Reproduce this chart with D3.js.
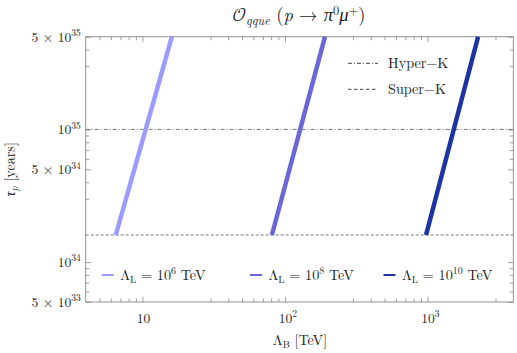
<!DOCTYPE html>
<html>
<head>
<meta charset="utf-8">
<script src="https://cdn.jsdelivr.net/npm/d3@7"></script>
<style>
  body { margin: 0; background: #fff; }
</style>
</head>
<body>
<div id="chart"></div>
<script>
// values
const lambdaLExp = [6, 8, 10];                      // Λ_L = 10^n TeV
const lineColors = ["#9c9cff", "#6a68d6", "#1c34a2"];
const tauEnds = [1.6e34, 5e35];                     // lines run from Super-K bound to top
const lambdaBStart = [6.5, 81, 977];                // Λ_B at τ = 1.6e34
const lambdaBEnd = [16.1, 191, 2265];               // Λ_B at τ = 5e35
const hyperK = 1e35;
const superK = 1.6e34;

const xMajor = [10, 100, 1000];
const xMajorLabels = [["10", ""], ["10", "2"], ["10", "3"]];
const xMinor = [5, 6, 7, 8, 9, 30, 40, 50, 60, 70, 80, 90, 300, 400, 500, 600, 700, 800, 900, 3000];
const yMajor = [5e33, 1e34, 5e34, 1e35, 5e35];
const yMajorLabels = [["5 × 10", "33"], ["10", "34"], ["5 × 10", "34"], ["10", "35"], ["5 × 10", "35"]];
const yMinor = [6e33, 7e33, 8e33, 9e33, 3e34, 4e34, 6e34, 7e34, 8e34, 9e34, 3e35, 4e35];

const lm = "'Latin Modern Roman'";

var margin = {top: 36.7, left: 85.7, right: 3.7, bottom: 51},
    W = 517, H = 353,
    width = W - margin.left - margin.right,
    height = H - margin.top - margin.bottom;

var svg = d3.select("#chart").append("svg")
    .attr("width", W)
    .attr("height", H)
    .style("font-family", lm);

var g = svg.append("g")
    .attr("transform", "translate(" + margin.left + "," + margin.top + ")");

var x = d3.scaleLog().domain([4, 4000]).range([0, width]);
var y = d3.scaleLog().domain([5e33, 5e35]).range([height, 0]);

// frame with inward ticks on all sides
function styleAxis(sel) {
    sel.select(".domain").remove();
    sel.selectAll("line").attr("stroke", "#888").attr("stroke-width", 0.8);
}
var tickSets = [[xMajor, 5.5], [xMinor, 3.5]];
tickSets.forEach(function(t) {
    g.append("g").attr("transform", "translate(0," + height + ")")
        .call(d3.axisBottom(x).tickValues(t[0]).tickSize(-t[1]).tickFormat(""))
        .call(styleAxis);
    g.append("g")
        .call(d3.axisTop(x).tickValues(t[0]).tickSize(-t[1]).tickFormat(""))
        .call(styleAxis);
});
var yTickSets = [[yMajor, 5.5], [yMinor, 3.5]];
yTickSets.forEach(function(t) {
    g.append("g")
        .call(d3.axisLeft(y).tickValues(t[0]).tickSize(-t[1]).tickFormat(""))
        .call(styleAxis);
    g.append("g").attr("transform", "translate(" + width + ",0)")
        .call(d3.axisRight(y).tickValues(t[0]).tickSize(-t[1]).tickFormat(""))
        .call(styleAxis);
});

g.append("rect")
    .attr("width", width)
    .attr("height", height)
    .attr("fill", "none")
    .attr("stroke", "#888")
    .attr("stroke-width", 0.9);

function newText(parent, size) {
    return parent.append("text")
        .style("font-family", lm)
        .attr("fill", "#222")
        .attr("font-size", size);
}

// tick labels with superscripts
function supText(sel, base, sup, size) {
    sel.append("tspan").text(base);
    if (sup) sel.append("tspan").attr("dy", -size * 0.42).attr("font-size", size * 0.7).text(sup);
}
xMajor.forEach(function(v, i) {
    var t = newText(g, 13.5)
        .attr("x", x(v) + (xMajorLabels[i][1] ? 3 : 1))
        .attr("y", height + 21)
        .attr("text-anchor", "middle");
    supText(t, xMajorLabels[i][0], xMajorLabels[i][1], 13.5);
});
yMajor.forEach(function(v, i) {
    var t = newText(g, 13.5)
        .attr("x", -5)
        .attr("y", y(v) + 5)
        .attr("text-anchor", "end");
    supText(t, yMajorLabels[i][0], yMajorLabels[i][1], 13.5);
});

// reference bounds
g.append("line")
    .attr("x1", 0).attr("x2", width)
    .attr("y1", y(hyperK)).attr("y2", y(hyperK))
    .attr("stroke", "#777").attr("stroke-width", 1)
    .attr("stroke-dasharray", "4,2,1,2");
g.append("line")
    .attr("x1", 0).attr("x2", width)
    .attr("y1", y(superK)).attr("y2", y(superK))
    .attr("stroke", "#777").attr("stroke-width", 1)
    .attr("stroke-dasharray", "3,2");

// lifetime lines
var line = d3.line().x(d => x(d[0])).y(d => y(d[1]));
lambdaLExp.forEach(function(n, i) {
    g.append("path")
        .datum([[lambdaBStart[i], tauEnds[0]], [lambdaBEnd[i], tauEnds[1]]])
        .attr("d", line)
        .attr("fill", "none")
        .attr("stroke", lineColors[i])
        .attr("stroke-width", 4.5);
});

// top right legend
var legendTop = [["Hyper−K", "4,2,1,2", 63.3], ["Super−K", "3.5,2.5", 89.3]];
legendTop.forEach(function(d) {
    svg.append("line")
        .attr("x1", 348).attr("x2", 378)
        .attr("y1", d[2]).attr("y2", d[2])
        .attr("stroke", "#444").attr("stroke-width", 1)
        .attr("stroke-dasharray", d[1]);
    newText(svg, 14.2)
        .attr("x", 388).attr("y", d[2] + 4.5)
        .text(d[0]);
});

// bottom legend
var legX = [101.7, 250, 383.5];
lambdaLExp.forEach(function(n, i) {
    svg.append("line")
        .attr("x1", legX[i]).attr("x2", legX[i] + 12)
        .attr("y1", 275).attr("y2", 275)
        .attr("stroke", lineColors[i]).attr("stroke-width", 2);
    var t = newText(svg, 14.2)
        .attr("x", legX[i] + 18.5).attr("y", 280);
    t.append("tspan").text("Λ");
    t.append("tspan").attr("dy", 3).attr("font-size", 10).text("L");
    t.append("tspan").attr("dy", -3).text(" = 10");
    t.append("tspan").attr("dy", -6).attr("font-size", 10).text(n);
    t.append("tspan").attr("dy", 6).text(" TeV");
});

// title
var title = newText(svg, 18.5)
    .attr("x", 299).attr("y", 21)
    .attr("text-anchor", "middle");
title.append("tspan").style("font-family", "'Latin Modern Math', 'Latin Modern Roman'").attr("font-size", 19.5).text("𝒪");
title.append("tspan").attr("font-style", "italic").attr("font-size", 12.5).attr("dy", 4).text("qque");
title.append("tspan").attr("dy", -4).text(" (");
title.append("tspan").attr("font-style", "italic").text("p");
title.append("tspan").text(" → ");
title.append("tspan").attr("font-style", "italic").text("π");
title.append("tspan").attr("font-size", 12.5).attr("dy", -6.5).text("0");
title.append("tspan").attr("font-style", "italic").attr("dy", 6.5).text("μ");
title.append("tspan").attr("font-size", 12.5).attr("dy", -6.5).text("+");
title.append("tspan").attr("dy", 6.5).text(")");

// axis titles
var xl = newText(svg, 14.2)
    .attr("x", 300).attr("y", 345)
    .attr("text-anchor", "middle");
xl.append("tspan").text("Λ");
xl.append("tspan").attr("dy", 3).attr("font-size", 10).text("B");
xl.append("tspan").attr("dy", -3).text(" [TeV]");

var yl = newText(svg, 14.2)
    .attr("transform", "translate(15," + (margin.top + height / 2) + ") rotate(-90)")
    .attr("text-anchor", "middle");
yl.append("tspan").attr("font-style", "italic").text("τ");
yl.append("tspan").attr("font-style", "italic").attr("dy", 3).attr("font-size", 10).text("p");
yl.append("tspan").attr("dy", -3).text(" [years]");
</script>
</body>
</html>
